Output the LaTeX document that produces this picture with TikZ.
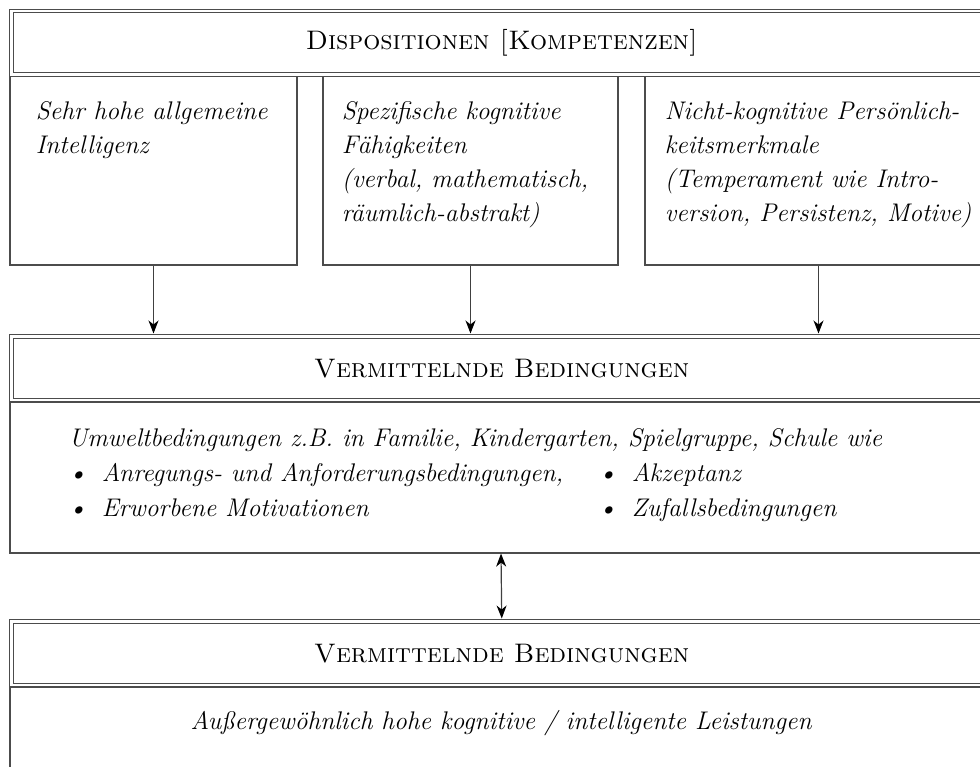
\documentclass[tikz,border=0pt]{standalone}
\usetikzlibrary{positioning,fit,arrows.meta}
\newcommand{\bul}{\makebox[16.5pt][l]{\hspace*{-0.5pt}\textbullet}}
\begin{document}
\begin{tikzpicture}[>={Stealth[length=6.5pt,width=5pt,inset=2pt,color=black]},x=0.5pt,y=-0.5pt,
    frame/.style={draw=black!70,line width=0.6pt,inner sep=0pt},
    dframe/.style={frame,double,double distance=1.2pt,outer sep=1.5pt},
    txt/.style={inner sep=0pt,align=left,font=\fontsize{12.75}{17}\selectfont\itshape},
    head/.style={inner sep=0pt,font=\fontsize{13.4}{15}\selectfont\scshape},
    arr/.style={->,draw=black!75,line width=0.6pt}]
\useasboundingbox (0,0) rectangle (980,766);
\clip (0,0) rectangle (980,766);
% Dispositionen
\node[dframe,fit={(11.5,11) (992,74.5)}] (disp) {};
\node[head] (dispT) at (disp.center) {Dispositionen [Kompetenzen]};
\node[frame,fit={(10,76.5) (297,265)}] (intel) {};
\node[frame,fit={(323,76.5) (618,265)}] (spez) {};
\node[frame,fit={(645,76.5) (992,265)}] (pers) {};
\node[txt,below right=12.5pt and 13pt of intel.north west] (intelT) {Sehr hohe allgemeine\\Intelligenz};
\node[txt,below right=12.5pt and 9.5pt of spez.north west] (spezT) {Spezifische kognitive\\F\"ahigkeiten\\(verbal, mathematisch,\\r\"aumlich-abstrakt)};
\node[txt,below right=12.5pt and 10pt of pers.north west] (persT) {Nicht-kognitive Pers\"onlich-\\keitsmerkmale\\(Temperament wie Intro-\\version, Persistenz, Motive)};
% Vermittelnde Bedingungen
\node[dframe,fit={(11.5,336.5) (992,400)}] (vermA) {};
\node[head] (vermAT) at (vermA.center) {Vermittelnde Bedingungen};
\node[frame,fit={(10,402) (992,553)}] (umwelt) {};
\node[txt,below right=13.5pt and 29.5pt of umwelt.north west] (umweltT) {Umweltbedingungen z.B. in Familie, Kindergarten, Spielgruppe, Schule wie\\[0.5pt]
    \makebox[265pt][l]{\bul Anregungs- und Anforderungsbedingungen,}\bul Akzeptanz\\[0.5pt]
    \makebox[265pt][l]{\bul Erworbene Motivationen}\bul Zufallsbedingungen};
% Leistungen
\node[dframe,fit={(11.5,621.5) (992,685)}] (vermB) {};
\node[head] (vermBT) at (vermB.center) {Vermittelnde Bedingungen};
\node[frame,fit={(10,687) (992,790)}] (leist) {};
\node[txt] (leistT) at ([yshift=-18.5pt]leist.north) {Au\ss ergew\"ohnlich hohe kognitive / intelligente Leistungen};
% Pfeile
\foreach \n in {intel,spez,pers}{\draw[arr] (\n.south) -- (\n.south |- vermA.north);}
\draw[arr,<->] (umwelt.south) -- (vermB.north);
\end{tikzpicture}
\end{document}
